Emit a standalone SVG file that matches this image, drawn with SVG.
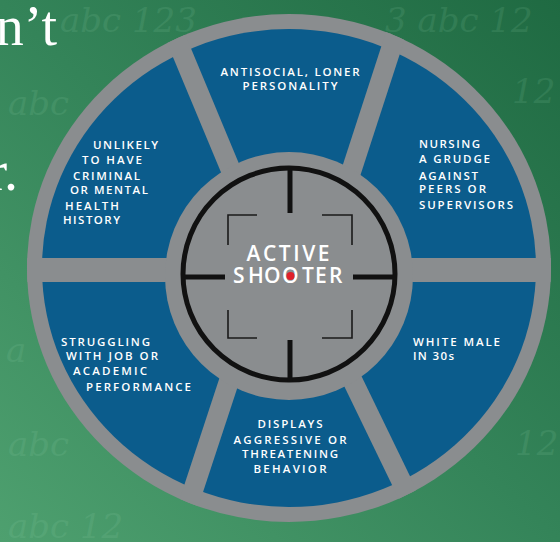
<svg xmlns="http://www.w3.org/2000/svg" width="560" height="542" viewBox="0 0 560 542">
<defs>
<linearGradient id="bg" x1="0" y1="1" x2="1" y2="0">
<stop offset="0" stop-color="#4ea06f"/>
<stop offset="0.5" stop-color="#348459"/>
<stop offset="1" stop-color="#1f6a42"/>
</linearGradient>
<clipPath id="wheelClip">
<ellipse cx="289" cy="268" rx="262" ry="254"/>
</clipPath>
<style>
.chalk{font-family:"DejaVu Serif",serif;font-style:italic;fill:#9ad8b2;opacity:0.12;font-size:34px}
.big{font-family:"Liberation Serif","DejaVu Serif",serif;fill:#ffffff;font-size:56px}
.lbl{font-family:"Open Sans","Liberation Sans",sans-serif;font-weight:600;font-size:11.5px;fill:#ffffff}
.ctr{font-family:"Open Sans","Liberation Sans",sans-serif;font-weight:600;font-size:21px;fill:#ffffff}
.spoke{stroke:#8a8d8f;fill:none}
.hair{stroke:#111111;stroke-width:5;fill:none}
.brk{stroke:#1a1a1a;stroke-width:1.6;fill:none}
</style>
</defs>
<rect id="background" x="0" y="0" width="560" height="542" fill="url(#bg)"/>
<g id="chalk">
<text class="chalk" x="60" y="32">abc 123</text>
<text class="chalk" x="385" y="32">3 abc 12</text>
<text class="chalk" x="8" y="115">abc</text>
<text class="chalk" x="512" y="103">12</text>
<text class="chalk" x="6" y="362">a</text>
<text class="chalk" x="8" y="456">abc</text>
<text class="chalk" x="515" y="455">12</text>
<text class="chalk" x="8" y="538">abc 12</text>
</g>
<g id="slide-text">
<text class="big" x="57" y="45" text-anchor="end">n’t</text>
<text class="big" x="18" y="190" text-anchor="end">r.</text>
</g>
<g id="wheel">
<ellipse cx="289" cy="268" rx="262" ry="254" fill="#8a8d8f"/>
<ellipse cx="289" cy="268" rx="247" ry="239" fill="#0b5c8c"/>
</g>
<g id="connectors" clip-path="url(#wheelClip)">
<line class="spoke" stroke-width="24" x1="20" y1="270" x2="200" y2="270"/>
<line class="spoke" stroke-width="24" x1="380" y1="270" x2="555" y2="270"/>
<line class="spoke" stroke-width="20" x1="165" y1="12" x2="235" y2="180"/>
<line class="spoke" stroke-width="20" x1="403" y1="12" x2="350" y2="175"/>
<line class="spoke" stroke-width="20" x1="180" y1="530" x2="232" y2="372"/>
<line class="spoke" stroke-width="20" x1="345" y1="365" x2="425" y2="530"/>
</g>
<g id="center">
<circle cx="289" cy="276" r="124" fill="#8a8d8f"/>
<circle class="hair" cx="289" cy="274" r="106" stroke-width="4"/>
<line class="hair" x1="290" y1="170" x2="290" y2="213"/>
<line class="hair" x1="290" y1="340" x2="290" y2="382"/>
<line class="hair" x1="184" y1="277" x2="225" y2="277"/>
<line class="hair" x1="353" y1="277" x2="394" y2="277"/>
<path class="brk" d="M257 215 H228 V245 M322 215 H352 V245 M228 310 V338 H257 M352 310 V338 H322"/>
<text class="ctr" x="288" y="261" text-anchor="middle" textLength="83">ACTIVE</text>
<text class="ctr" x="233 248 264 282 302 315 329" y="283">SHOOTER</text>
<circle cx="290.5" cy="276" r="4" fill="#e0202a"/>
</g>
<g id="node-antisocial">
<text class="lbl" x="290" y="76" text-anchor="middle" textLength="139">ANTISOCIAL, LONER</text>
<text class="lbl" x="290" y="90" text-anchor="middle" textLength="95">PERSONALITY</text>
</g>
<g id="node-unlikely">
<text class="lbl" x="93" y="149" textLength="65">UNLIKELY</text>
<text class="lbl" x="82" y="164" textLength="60">TO HAVE</text>
<text class="lbl" x="73" y="180" textLength="67">CRIMINAL</text>
<text class="lbl" x="70" y="194" textLength="78">OR MENTAL</text>
<text class="lbl" x="65" y="210" textLength="54">HEALTH</text>
<text class="lbl" x="63" y="224" textLength="57">HISTORY</text>
</g>
<g id="node-grudge">
<text class="lbl" x="419" y="148" textLength="61">NURSING</text>
<text class="lbl" x="419" y="163" textLength="71">A GRUDGE</text>
<text class="lbl" x="419" y="180" textLength="59">AGAINST</text>
<text class="lbl" x="419" y="193" textLength="67">PEERS OR</text>
<text class="lbl" x="419" y="209" textLength="94">SUPERVISORS</text>
</g>
<g id="node-white-male">
<text class="lbl" x="413" y="346" textLength="87">WHITE MALE</text>
<text class="lbl" x="413" y="360" textLength="41">IN 30s</text>
</g>
<g id="node-struggling">
<text class="lbl" x="61" y="346" textLength="89">STRUGGLING</text>
<text class="lbl" x="66" y="360" textLength="92">WITH JOB OR</text>
<text class="lbl" x="73" y="375" textLength="74">ACADEMIC</text>
<text class="lbl" x="86" y="391" textLength="105">PERFORMANCE</text>
</g>
<g id="node-displays">
<text class="lbl" x="290" y="428" text-anchor="middle" textLength="65">DISPLAYS</text>
<text class="lbl" x="290" y="444" text-anchor="middle" textLength="113">AGGRESSIVE OR</text>
<text class="lbl" x="290" y="458" text-anchor="middle" textLength="96">THREATENING</text>
<text class="lbl" x="290" y="473" text-anchor="middle" textLength="73">BEHAVIOR</text>
</g>
</svg>
